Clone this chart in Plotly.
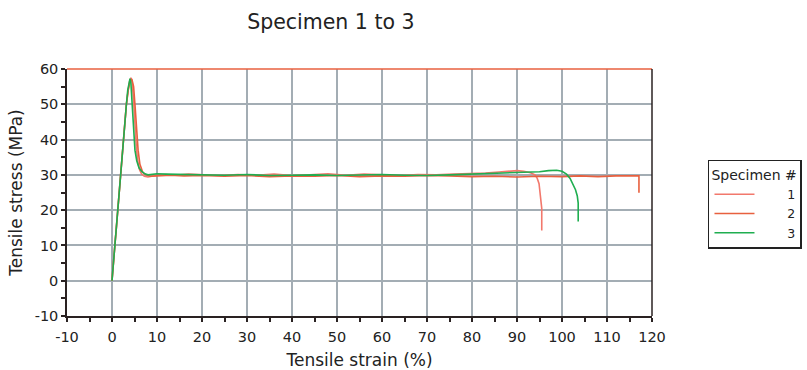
import plotly.graph_objects as go

# Specimen 1 (light red)
strain_1 = [0, 0.1, 0.3, 0.5, 0.7, 0.9, 1.2, 1.6, 2.0, 2.4, 2.8, 3.2, 3.6, 3.9, 4.2, 4.5, 4.8, 5.1, 5.4, 5.7, 6.1, 6.6, 7.2, 8.0, 8.8, 10, 12, 14, 17, 20, 24, 28, 32, 36, 40, 44, 48, 52, 56, 60, 64, 68, 72, 76, 80, 83, 86, 88, 90, 91.5, 93, 94, 94.5, 94.9, 95.1, 95.2, 95.3, 95.4, 95.5, 95.5]
stress_1 = [0, 2, 4, 8, 11, 14, 19, 25, 32, 38, 44, 50, 54, 56.5, 57.5, 56, 51, 44, 38, 34, 31.5, 30.2, 29.6, 29.4, 29.6, 29.9, 30.1, 29.9, 30.2, 30.0, 29.8, 30.1, 29.9, 30.2, 29.8, 30.0, 30.3, 29.9, 30.2, 30.0, 29.8, 30.1, 30.0, 30.2, 30.3, 30.5, 30.8, 31.1, 31.2, 31.0, 30.6, 30.0, 29.0, 27.5, 25.5, 23.5, 22.5, 21.5, 20.5, 14.2]

# Specimen 2 (red)
strain_2 = [0, 0.1, 0.3, 0.5, 0.7, 0.9, 1.2, 1.6, 2.0, 2.4, 2.8, 3.2, 3.6, 4.0, 4.4, 4.8, 5.1, 5.4, 5.8, 6.2, 6.8, 7.5, 8.5, 10, 13, 16, 20, 25, 30, 35, 40, 45, 50, 55, 60, 65, 70, 75, 80, 85, 90, 95, 100, 104, 108, 112, 115, 117.1, 117.1]
stress_2 = [0, 2, 4, 8, 11, 14, 19, 25, 32, 38, 44, 50, 54, 56.5, 57.2, 55, 50, 43, 37, 33, 30.8, 30.0, 29.6, 29.7, 29.9, 29.7, 29.8, 29.6, 29.8, 29.5, 29.7, 29.6, 29.8, 29.5, 29.7, 29.6, 29.8, 29.7, 29.5, 29.6, 29.4, 29.6, 29.5, 29.7, 29.5, 29.7, 29.6, 29.7, 24.9]

# Specimen 3 (green)
strain_3 = [0, 0.1, 0.3, 0.5, 0.7, 0.9, 1.2, 1.6, 2.0, 2.4, 2.8, 3.2, 3.5, 3.8, 4.0, 4.2, 4.4, 4.6, 4.8, 5.1, 5.5, 6.0, 6.6, 7.3, 8, 9, 10, 12, 15, 18, 20, 25, 30, 35, 40, 45, 50, 55, 60, 65, 70, 75, 80, 84, 88, 92, 95, 97, 98.8, 100, 101, 101.8, 102.4, 103.0, 103.4, 103.6, 103.6]
stress_3 = [0, 2, 4, 8, 11, 14, 19, 25, 32, 38, 45, 50, 54, 56.5, 57.3, 56, 52, 46, 41, 37, 34, 32, 31, 30.3, 30.0, 30.1, 30.3, 30.2, 30.1, 30.2, 30.0, 29.9, 30.1, 29.8, 29.9, 30.0, 29.8, 29.9, 30.1, 29.9, 29.8, 30.0, 30.2, 30.3, 30.5, 30.7, 30.9, 31.2, 31.3, 31.0, 30.2, 29.0, 27.5, 25.8, 24.0, 22.0, 16.8]

series_names = ["1", "2", "3"]
series_colors = ["#f2786c", "#e8603f", "#1fae50"]

x_ticks = list(range(-10, 121, 10))
y_ticks = list(range(-10, 61, 10))

fig = go.Figure()
for name, xs, ys, col in zip(series_names, [strain_1, strain_2, strain_3],
                             [stress_1, stress_2, stress_3], series_colors):
    fig.add_trace(go.Scatter(x=xs, y=ys, mode="lines", name="       " + name,
                             line=dict(color=col, width=1.6)))

font_family = "DejaVu Sans, Verdana, sans-serif"
grid_col = "#a3adb4"
axis_col = "#2a2222"

fig.update_layout(
    width=807, height=370,
    margin=dict(l=67, r=155, t=69, b=54, autoexpand=False),
    paper_bgcolor="white", plot_bgcolor="white",
    font=dict(family=font_family, color="#222", size=14),
    title=dict(text="Specimen 1 to 3", x=0.451, xref="paper", xanchor="center",
               y=0.9405, yref="container", yanchor="middle", font=dict(size=20.5, color="#222")),
    showlegend=True,
    legend=dict(title=dict(text="Specimen #", font=dict(size=14)),
                x=1.0957, y=0.632, xanchor="left", yanchor="top",
                bordercolor="#222", borderwidth=1.5, bgcolor="white",
                font=dict(size=12.5), tracegroupgap=0, itemwidth=40,
                traceorder="normal"),
    xaxis=dict(range=[-10, 120], tickvals=x_ticks, ticktext=[str(v) for v in x_ticks],
               showgrid=True, gridcolor=grid_col, gridwidth=1.5,
               zeroline=False, showline=True, linecolor=axis_col, linewidth=1.5,
               ticks="outside", ticklen=4, tickcolor=axis_col, tickwidth=1.5,
               tickfont=dict(size=14.5), ticklabelstandoff=3,
               minor=dict(dtick=5, ticks="outside", ticklen=4, tickcolor=axis_col, tickwidth=1.5, showgrid=False),
               title=dict(text="Tensile strain (%)", font=dict(size=17), standoff=12)),
    yaxis=dict(range=[-10, 60], tickvals=y_ticks, ticktext=[str(v) for v in y_ticks],
               showgrid=True, gridcolor=grid_col, gridwidth=1.5,
               zeroline=False, showline=True, linecolor=axis_col, linewidth=1.5,
               ticks="outside", ticklen=4, tickcolor=axis_col, tickwidth=1.5,
               tickfont=dict(size=14.5),
               minor=dict(dtick=5, ticks="outside", ticklen=4, tickcolor=axis_col, tickwidth=1.5, showgrid=False),
               title=dict(text="Tensile stress (MPa)", font=dict(size=17), standoff=8)),
    xaxis2=dict(overlaying="x", matches="x", side="bottom", anchor="y",
                showticklabels=False, showgrid=False, zeroline=False, showline=False,
                tickvals=x_ticks, ticks="inside", ticklen=3, tickcolor=axis_col, tickwidth=1.5,
                minor=dict(dtick=5, ticks="inside", ticklen=3, tickcolor=axis_col, tickwidth=1.5)),
    yaxis2=dict(overlaying="y", matches="y", side="left", anchor="x",
                showticklabels=False, showgrid=False, zeroline=False, showline=False,
                tickvals=y_ticks, ticks="inside", ticklen=3, tickcolor=axis_col, tickwidth=1.5,
                minor=dict(dtick=5, ticks="inside", ticklen=3, tickcolor=axis_col, tickwidth=1.5)),
    shapes=[
        dict(type="line", xref="paper", yref="paper", x0=0, x1=1, y0=1, y1=1,
             line=dict(color="#e8603f", width=1.5)),
        dict(type="line", xref="paper", yref="paper", x0=1, x1=1, y0=0, y1=1,
             line=dict(color=axis_col, width=1.5)),
    ],
)

fig.write_html("out.html", config={"displayModeBar": False},
               post_script="document.body.style.margin='0';document.body.style.overflow='hidden';")
